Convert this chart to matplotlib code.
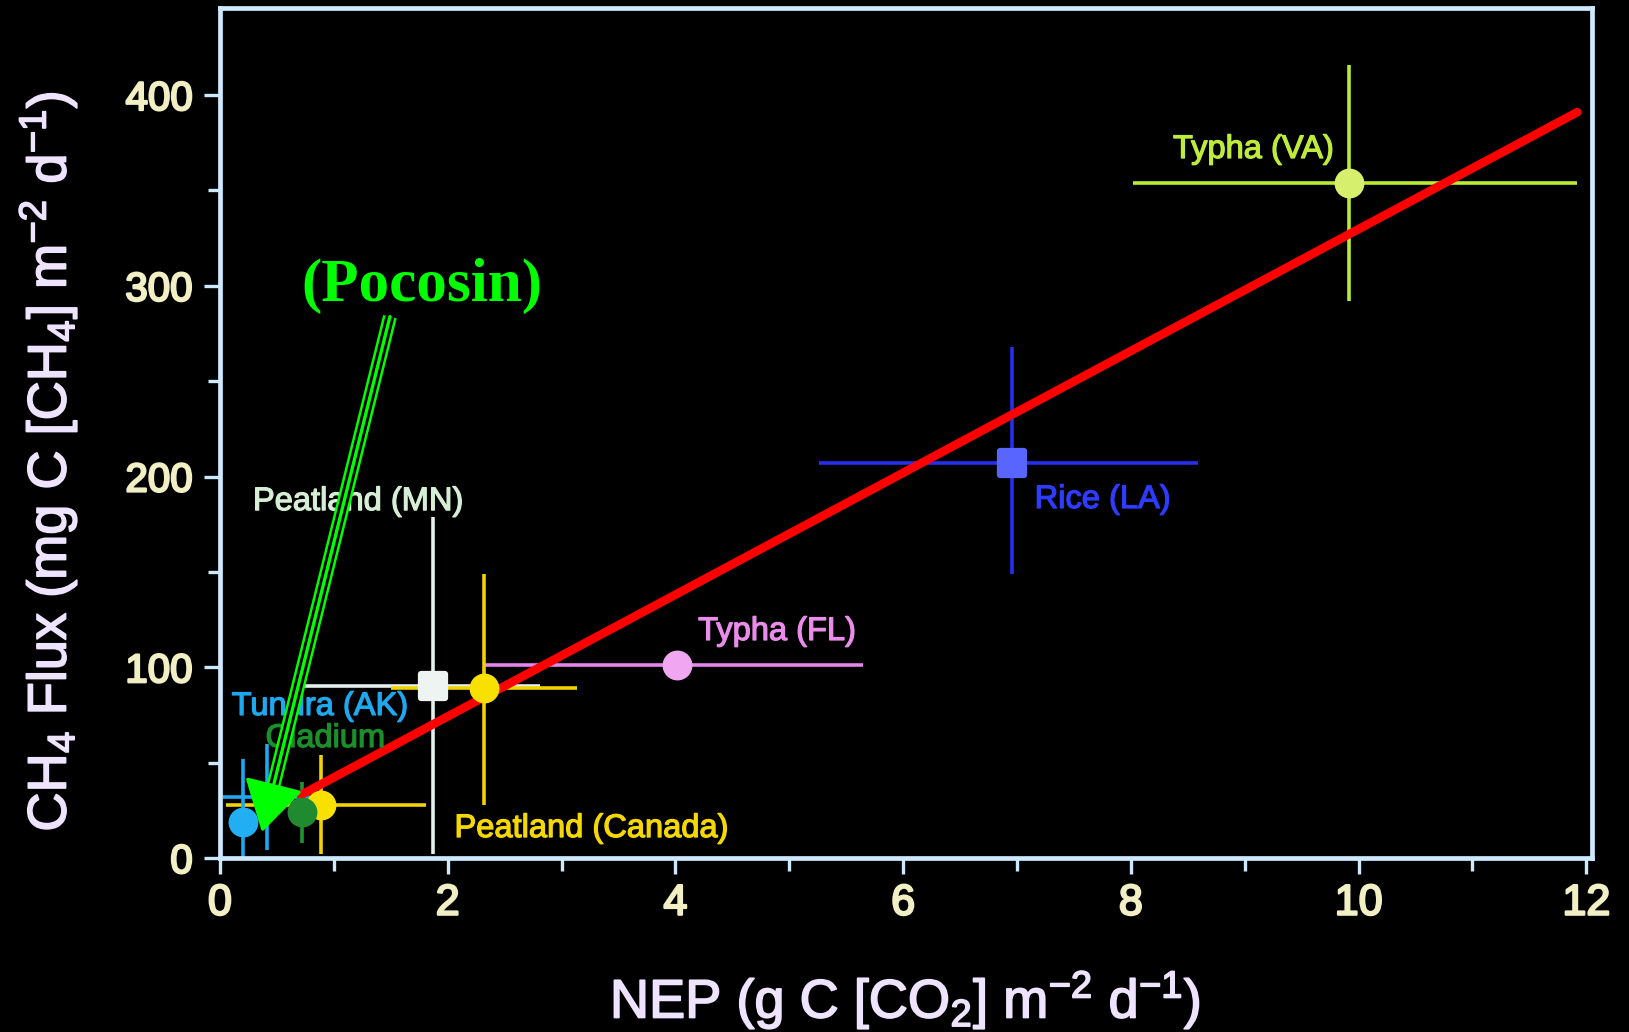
import matplotlib
matplotlib.use("Agg")
import matplotlib.pyplot as plt
import matplotlib.patheffects as pe
from matplotlib.markers import MarkerStyle
from matplotlib.ticker import MultipleLocator

plt.rcParams['font.family'] = ['Liberation Sans', 'DejaVu Sans']
plt.rcParams['mathtext.fontset'] = 'custom'
plt.rcParams['mathtext.rm'] = 'Liberation Sans'
plt.rcParams['mathtext.it'] = 'Liberation Sans:italic'
plt.rcParams['mathtext.bf'] = 'Liberation Sans:bold'

# Wetland sites: net ecosystem production vs methane flux, with ranges
site_names = ["Typha (VA)", "Rice (LA)", "Typha (FL)", "Peatland (MN)",
              "Peatland (Canada)", "Peatland (Canada)", "Cladium",
              "Tundra (AK)", "Tundra (AK)"]
nep = [9.92, 6.96, 4.01, 1.87, 2.32, 0.89, 0.72, 0.20, 0.41]
nep_err_lo = [1.90, 1.70, 1.68, 1.20, 0.82, 0.84, 0.0, 0.0, 0.38]
nep_err_hi = [2.00, 1.63, 1.64, 0.94, 0.82, 0.92, 0.0, 0.0, 0.38]
ch4_flux = [354, 207, 101, 90, 89, 28, 24, 19, 32]
ch4_err_lo = [62, 58, 0, 88, 61, 26, 16, 33, 28]
ch4_err_hi = [62, 61, 0, 89, 60, 26, 16, 33, 28]

bar_colors = ["#b9ec32", "#2430ee", "#e486ea", "#e4f0ee", "#f2d200",
              "#f2d200", "#1f9433", "#1ea8f0", "#1ea8f0"]
marker_colors = ["#d6f06e", "#5865ff", "#f0a6f0", "#eef4f2", "#f8e000",
                 "#f8e000", "#208a30", "#22aef2", "#22aef2"]
marker_shapes = ["o", "s", "o", "s", "o", "o", "o", "o", "o"]

# Site labels (left edge, baseline) in data units
label_text = ["Typha (VA)", "Rice (LA)", "Typha (FL)", "Peatland (MN)",
              "Peatland (Canada)", "Tundra (AK)", "Cladium"]
label_x = [8.37, 7.155, 4.20, 0.29, 2.06, 0.103, 0.40]
label_y = [367, 183.5, 114.3, 182.4, 11, 75, 58.2]
label_colors = ["#bfec3a", "#2e3cff", "#ea8cea", "#d6eed6", "#f5d800",
                "#1ea8f0", "#1c8f2a"]

# Linear fit of CH4 flux on NEP
fit_slope = 31.94
fit_intercept = 10.3
fit_x_range = [0.71, 11.92]

# Pocosin callout
pocosin_label = "(Pocosin)"
pocosin_label_xy = (1.77, 292)
pocosin_arrow_tail = (1.493, 283.8)
pocosin_arrow_tip = (0.369, 13.6)

x_ticks = [0, 2, 4, 6, 8, 10, 12]
y_ticks = [0, 100, 200, 300, 400]

spine_color = "#cde9ff"
tick_label_color = "#f3efc4"
axis_label_color = "#efe4ff"
callout_green = "#00ff00"


def heavier(color, width):
    return [pe.withStroke(linewidth=width, foreground=color)]


fig = plt.figure(figsize=(16.29, 10.32), dpi=100, facecolor="black")
ax = fig.add_axes([0.135, 0.1686, 0.8423, 0.8234])
ax.set_facecolor("black")

# Error bars
for i in range(len(nep)):
    xerr = None
    yerr = None
    if nep_err_lo[i] > 0 or nep_err_hi[i] > 0:
        xerr = [[nep_err_lo[i]], [nep_err_hi[i]]]
    if ch4_err_lo[i] > 0 or ch4_err_hi[i] > 0:
        yerr = [[ch4_err_lo[i]], [ch4_err_hi[i]]]
    ax.errorbar([nep[i]], [ch4_flux[i]], xerr=xerr, yerr=yerr, fmt="none",
                ecolor=bar_colors[i], elinewidth=2.6, capsize=0, zorder=2)

# Regression line
fit_y = [fit_intercept + fit_slope * x for x in fit_x_range]
ax.plot(fit_x_range, fit_y, color="#ff0000", lw=6.2,
        solid_capstyle="round", zorder=3)

# Site markers
for i in range(len(nep)):
    if marker_shapes[i] == "s":
        ax.plot(nep[i], ch4_flux[i], linestyle="none",
                marker=MarkerStyle("s", joinstyle="round"), ms=17.5,
                mfc=marker_colors[i], mec=marker_colors[i], mew=4.5, zorder=4)
    else:
        ax.plot(nep[i], ch4_flux[i], linestyle="none", marker="o", ms=21.5,
                mfc=marker_colors[i], mec="none", zorder=4)

# Site labels
for t, x, y, c in zip(label_text, label_x, label_y, label_colors):
    ax.text(x, y, t, color=c, fontsize=23.5, ha="left", va="baseline",
            zorder=5, path_effects=heavier(c, 0.9))

# Pocosin callout: hollow double-line shaft with a solid head
frac = 0.085
base = (pocosin_arrow_tip[0] + frac * (pocosin_arrow_tail[0] - pocosin_arrow_tip[0]),
        pocosin_arrow_tip[1] + frac * (pocosin_arrow_tail[1] - pocosin_arrow_tip[1]))
ax.plot([pocosin_arrow_tail[0], base[0]], [pocosin_arrow_tail[1], base[1]],
        color=callout_green, lw=10, solid_capstyle="butt", zorder=8)
ax.plot([pocosin_arrow_tail[0], base[0]], [pocosin_arrow_tail[1], base[1]],
        color="black", lw=6.4, solid_capstyle="butt", zorder=9)
ax.annotate("", xy=pocosin_arrow_tip, xytext=pocosin_arrow_tail,
            arrowprops=dict(arrowstyle="-|>,head_length=1.6,head_width=0.95",
                            mutation_scale=20, color=callout_green, lw=2.4,
                            shrinkA=0, shrinkB=0),
            zorder=10)
ax.text(pocosin_label_xy[0], pocosin_label_xy[1], pocosin_label,
        color=callout_green, fontsize=44, fontweight="bold",
        family=["Liberation Serif", "DejaVu Serif"],
        ha="center", va="baseline", zorder=10)

# Axes styling
ax.set_xlim(0, 12.05)
ax.set_ylim(0, 445.5)
ax.set_xticks(x_ticks)
ax.set_yticks(y_ticks)
ax.xaxis.set_minor_locator(MultipleLocator(1))
ax.yaxis.set_minor_locator(MultipleLocator(50))
ax.set_xticklabels([str(v) for v in x_ticks])
ax.set_yticklabels([str(v) for v in y_ticks])
for s in ax.spines.values():
    s.set_color(spine_color)
    s.set_linewidth(3.4)
ax.tick_params(axis="both", which="major", direction="out", length=11.5,
               width=2.4, color=spine_color)
ax.tick_params(axis="both", which="minor", direction="out", length=9,
               width=2.4, color=spine_color)
ax.tick_params(axis="x", which="major", labelsize=31, pad=7,
               labelcolor=tick_label_color)
ax.tick_params(axis="y", which="major", labelsize=29, pad=8,
               labelcolor=tick_label_color)
for lbl in ax.get_xticklabels() + ax.get_yticklabels():
    lbl.set_path_effects(heavier(tick_label_color, 1.6))

fig.text(0.5555, 0.031, r"NEP (g C [CO$_2$] m$^{-2}$ d$^{-1}$)",
         color=axis_label_color, fontsize=39, ha="center", va="center",
         path_effects=heavier(axis_label_color, 1.2))
fig.text(0.0295, 0.5523, r"CH$_4$ Flux (mg C [CH$_4$] m$^{-2}$ d$^{-1}$)",
         color=axis_label_color, fontsize=39, ha="center", va="center",
         rotation=90, path_effects=heavier(axis_label_color, 1.2))

fig.savefig("out.png", dpi=100, facecolor="black")
